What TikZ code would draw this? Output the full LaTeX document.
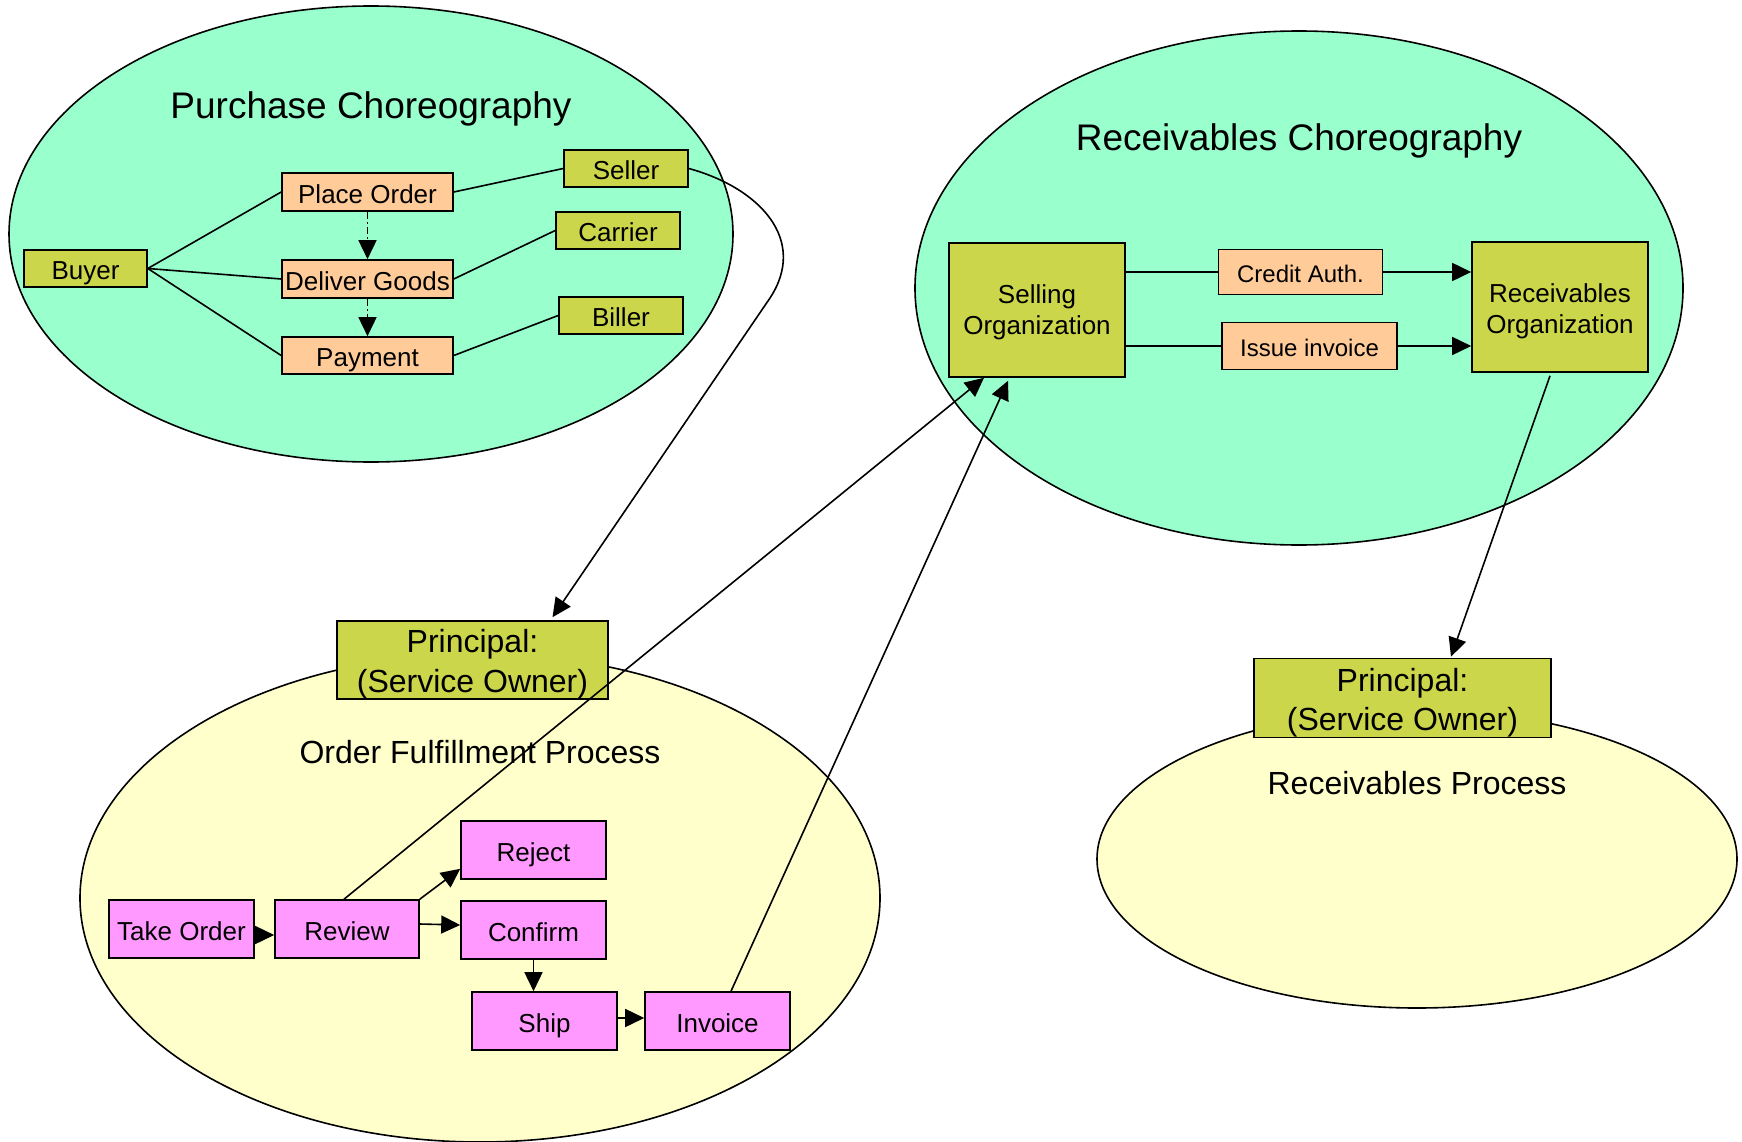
\documentclass[tikz,border=0pt]{standalone}
\usepackage{fontspec}
\setmainfont{Liberation Sans}
\usetikzlibrary{arrows.meta}

\definecolor{mint}{RGB}{153,255,204}
\definecolor{cream}{RGB}{255,255,204}
\definecolor{olive}{RGB}{204,214,74}
\definecolor{peach}{RGB}{255,204,153}
\definecolor{orchid}{RGB}{255,153,255}

\tikzset{
  box/.style={draw, line width=1.6pt, rectangle, inner sep=0pt, align=center,
              font=\fontsize{26}{31}\selectfont},
  oneline/.style={text height=22.4pt, text depth=0pt},
  smallline/.style={font=\fontsize{24}{28}\selectfont, text height=20.6pt, text depth=0pt},
  party/.style={box, fill=olive},
  msg/.style={box, fill=peach},
  task/.style={box, oneline, fill=orchid},
  principal/.style={box, fill=olive, font=\fontsize{32}{39.4}\selectfont},
  region/.style={draw, line width=1.6pt},
  title/.style={font=\fontsize{37}{40}\selectfont},
  subtitle/.style={font=\fontsize{32}{36}\selectfont},
  link/.style={line width=1.6pt},
  flow/.style={link, -{Triangle[length=19pt,width=18pt]}},
  seq/.style={flow, dash pattern=on 7pt off 3pt on 2pt off 3pt}
}

\begin{document}
\begin{tikzpicture}[x=1pt,y=-1pt]
\useasboundingbox (0,0) rectangle (1742,1142);

% regions
\draw[region, fill=mint]  (371,234)   ellipse [x radius=362pt, y radius=228pt];
\draw[region, fill=mint]  (1299,288)  ellipse [x radius=384pt, y radius=257pt];
\draw[region, fill=cream] (480,898)   ellipse [x radius=400pt, y radius=244pt];
\draw[region, fill=cream] (1417,859)  ellipse [x radius=320pt, y radius=149pt];

\node[title] (tpc) at (371,108.5) {Purchase Choreography};
\node[title] (trc) at (1299,140.5) {Receivables Choreography};
\node[subtitle] (tof) at (480,752) {Order Fulfillment Process};
\node[subtitle] (trp) at (1417,783) {Receivables Process};

% purchase choreography
\node[party, oneline, minimum width=123pt, minimum height=37pt] (buyer)   at (85.5,268.5) {Buyer};
\node[msg,   oneline, minimum width=171pt, minimum height=38pt] (place)   at (367.5,192)  {Place Order};
\node[msg,   oneline, minimum width=171pt, minimum height=38pt] (deliver) at (367.5,279)  {Deliver Goods};
\node[msg,   oneline, minimum width=171pt, minimum height=37pt] (pay)     at (367.5,355.5){Payment};
\node[party, oneline, minimum width=124pt, minimum height=37pt] (seller)  at (626,168.5)  {Seller};
\node[party, oneline, minimum width=124pt, minimum height=37pt] (carrier) at (618,230.5)  {Carrier};
\node[party, oneline, minimum width=124pt, minimum height=37pt] (biller)  at (621,315.5)  {Biller};

% receivables choreography
\node[party, minimum width=176pt, minimum height=134pt] (sell)   at (1037,310)
  {\rule{0pt}{24pt}Selling\\Organization};
\node[msg, smallline, minimum width=164pt, minimum height=45pt] (credit) at (1300.5,272) {Credit Auth.};
\node[msg, smallline, minimum width=175pt, minimum height=47pt] (issue)  at (1309.5,346) {Issue invoice};
\node[party, minimum width=176pt, minimum height=130pt] (recorg) at (1560,307)
  {\rule{0pt}{27pt}Receivables\\Organization};

% principals
\node[principal, minimum width=271pt, minimum height=78pt] (own1) at (472.5,660)
  {\rule{0pt}{31.5pt}Principal:\\(Service Owner)};
\node[principal, minimum width=297pt, minimum height=79pt] (own2) at (1402.5,698)
  {\rule{0pt}{33pt}Principal:\\(Service Owner)};

% order fulfillment process
\node[task, minimum width=145pt, minimum height=58pt] (take)    at (181.5,929)  {Take Order};
\node[task, minimum width=144pt, minimum height=58pt] (review)  at (347,929)    {Review};
\node[task, minimum width=145pt, minimum height=58pt] (reject)  at (533.5,850)  {Reject};
\node[task, minimum width=145pt, minimum height=58pt] (confirm) at (533.5,930)  {Confirm};
\node[task, minimum width=145pt, minimum height=58pt] (ship)    at (544.5,1021) {Ship};
\node[task, minimum width=145pt, minimum height=58pt] (invoice) at (717.5,1021) {Invoice};

% purchase choreography links
\draw[link] (buyer.east) -- (place.west);
\draw[link] (buyer.east) -- (deliver.west);
\draw[link] (buyer.east) -- (pay.west);
\draw[link] (place.east) -- (seller.west);
\draw[link] (deliver.east) -- (carrier.west);
\draw[link] (pay.east) -- (biller.west);
\draw[seq] (place.south) -- (deliver.north);
\draw[seq] (deliver.south) -- (pay.north);

% receivables choreography links
\draw[link] (sell.east |- credit.west) -- (credit.west);
\draw[flow] (credit.east) -- (recorg.west |- credit.east);
\draw[link] (sell.east |- issue.west) -- (issue.west);
\draw[flow] (issue.east) -- (recorg.west |- issue.east);

% order fulfillment flow
\draw[flow] ([yshift=-6pt]take.east) -- ([yshift=-6pt]review.west);
\draw[flow] (review.north east) -- ([yshift=11pt]reject.south west);
\draw[flow] ([yshift=5pt]review.east) -- ([yshift=5pt]confirm.west);
\draw[flow] (confirm.south) -- (confirm.south |- ship.north);
\draw[flow] ([yshift=3pt]ship.east) -- ([yshift=3pt]invoice.west);

% links between the models
\draw[flow] (seller.east) .. controls (760,188) and (808,240) .. (770,298)
            -- ([xshift=80pt,yshift=3pt]own1.north);
\draw[flow] ([xshift=-3pt]review.north) -- ([xshift=-53pt]sell.south);
\draw[flow] ([xshift=13.5pt]invoice.north) -- ([xshift=-29pt,yshift=-3pt]sell.south);
\draw[flow] ([xshift=-10pt,yshift=-3pt]recorg.south) -- ([xshift=48.5pt,yshift=1pt]own2.north);

\end{tikzpicture}
\end{document}
